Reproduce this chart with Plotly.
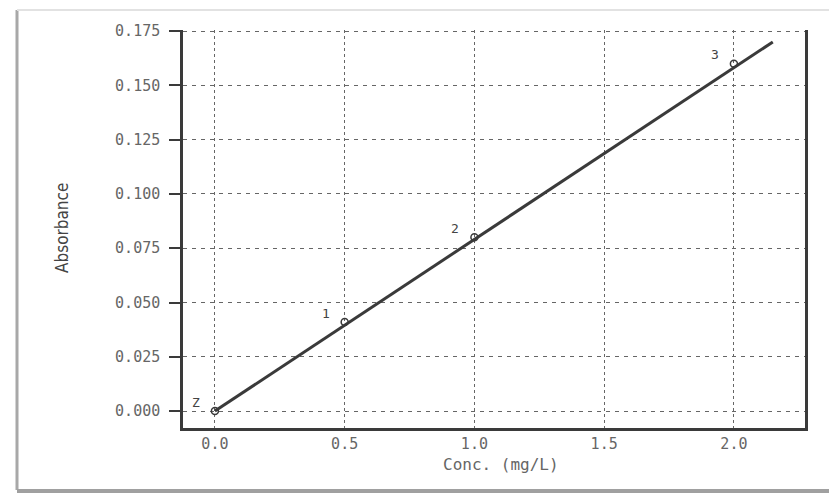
import plotly.graph_objects as go

# ---- data ----
conc = [0.0, 0.5, 1.0, 2.0]                 # mg/L
absorbance = [0.000, 0.041, 0.080, 0.160]
point_labels = ["Z", "1", "2", "3"]
fit_x = [0.0, 2.15]                          # calibration line ends
fit_y = [0.000, 0.170]
y_ticks = [0.000, 0.025, 0.050, 0.075, 0.100, 0.125, 0.150, 0.175]
y_ticktext = ["0.000", "0.025", "0.050", "0.075", "0.100", "0.125", "0.150", "0.175"]
x_ticks = [0.0, 0.5, 1.0, 1.5, 2.0]
x_ticktext = ["0.0", "0.5", "1.0", "1.5", "2.0"]

W, H = 837, 494          # browser window
BODY = 8                 # default page body margin
L, R, T, B = 183, 32, 30, 66   # plot-area edges in window pixels
PW, PH = W - L - R, H - T - B


def px(x):
    return (x - L) / PW


def py(y):
    return (H - B - y) / PH


ink = "#3a3a3a"
faded = "#666666"

fig = go.Figure()

fig.add_trace(go.Scatter(
    x=fit_x, y=fit_y, mode="lines",
    line=dict(color=ink, width=3),
    hoverinfo="skip", showlegend=False,
))
fig.add_trace(go.Scatter(
    x=conc, y=absorbance, mode="markers",
    marker=dict(symbol="circle-open", size=7, color=ink, line=dict(width=1.5)),
    showlegend=False,
))
for xv, yv, lab in zip(conc, absorbance, point_labels):
    fig.add_annotation(
        x=xv, y=yv, text=lab, showarrow=False,
        xshift=-19, yshift=9,
        font=dict(family="DejaVu Sans Mono", size=13, color="#444"),
    )

fig.update_xaxes(
    range=[-0.123, 2.274],
    tickvals=x_ticks, ticktext=x_ticktext,
    showgrid=True, gridcolor="#666", gridwidth=1.2, griddash="dot",
    showline=True, linecolor=ink, linewidth=2.5, mirror=False,
    ticks="", zeroline=False,
    tickfont=dict(family="DejaVu Sans Mono", size=15, color=faded),
)
fig.update_yaxes(
    range=[-0.0078, 0.1755],
    tickvals=y_ticks, ticktext=y_ticktext,
    showgrid=True, gridcolor="#666", gridwidth=1.2, griddash="4px,5px",
    showline=True, linecolor=ink, linewidth=2.5, mirror=True,
    ticks="outside", ticklen=11, tickcolor=ink, tickwidth=1.5,
    ticklabelstandoff=6,
    zeroline=False,
    tickfont=dict(family="DejaVu Sans Mono", size=15, color=faded),
)

fig.add_annotation(
    x=px(62), y=py(228), xref="paper", yref="paper",
    xanchor="center", yanchor="middle",
    text="Absorbance", textangle=-90, showarrow=False,
    font=dict(family="Liberation Sans Narrow, DejaVu Sans Condensed, sans-serif", size=17, color="#444"),
)
fig.add_annotation(
    x=px(501), y=py(465), xref="paper", yref="paper",
    xanchor="center", yanchor="middle",
    text="Conc. (mg/L)", showarrow=False,
    font=dict(family="DejaVu Sans Mono", size=16, color=faded),
)

# scanned page frame
shapes = [
    dict(type="line", x0=px(208), x1=px(782), y0=py(3), y1=py(3),
         line=dict(color="#b0b0b0", width=1.5)),
    dict(type="line", x0=px(7), x1=px(7), y0=py(15), y1=py(494),
         line=dict(color="#c8c8c8", width=1)),
    dict(type="line", x0=px(17), x1=px(17), y0=py(10), y1=py(490),
         line=dict(color="#a8a8a8", width=3)),
    dict(type="line", x0=px(17), x1=px(837), y0=py(10), y1=py(10),
         line=dict(color="#e2e2e2", width=2)),
    dict(type="line", x0=px(17), x1=px(837), y0=py(491), y1=py(491),
         line=dict(color="#a0a0a0", width=4)),
]
for s in shapes:
    s.update(xref="paper", yref="paper", layer="above")
    fig.add_shape(**s)

fig.update_layout(
    width=W - BODY, height=H - BODY,
    margin=dict(l=L - BODY, r=R, t=T - BODY, b=B, pad=0),
    paper_bgcolor="white", plot_bgcolor="white",
    showlegend=False,
)

fig.write_html("out.html")
